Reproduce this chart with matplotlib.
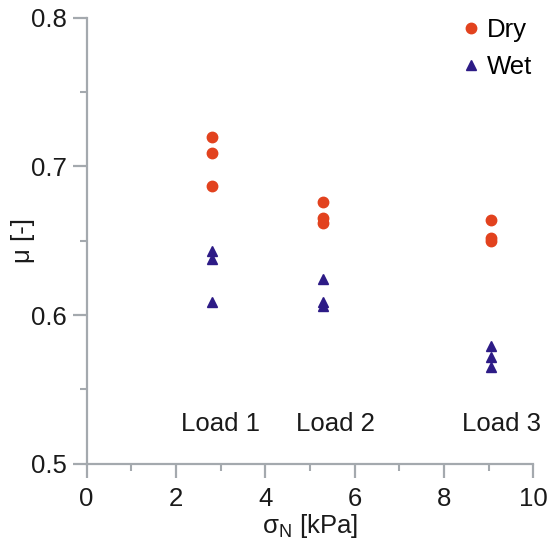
import matplotlib
matplotlib.use("Agg")
import matplotlib.pyplot as plt
from matplotlib.ticker import MultipleLocator, FormatStrFormatter

plt.rcParams["font.family"] = ["Liberation Sans", "DejaVu Sans"]
plt.rcParams["mathtext.fontset"] = "custom"
plt.rcParams["mathtext.rm"] = "Liberation Sans"

# normal stress for each load level [kPa]
load_x = [2.8, 5.3, 9.05]
load_labels = ["Load 1", "Load 2", "Load 3"]
label_x = [3.0, 5.58, 9.29]
label_y = 0.5264

# friction coefficients, three repeats per load
dry_mu = [
    [0.720, 0.709, 0.687],
    [0.676, 0.665, 0.662],
    [0.664, 0.652, 0.650],
]
wet_mu = [
    [0.643, 0.638, 0.609],
    [0.624, 0.609, 0.606],
    [0.579, 0.572, 0.565],
]

RED = "#e2421e"
BLUE = "#2d1b86"
GRAY = "#a4a9ae"
FS = 18.5

fig = plt.figure(figsize=(5.48, 5.40), dpi=100)
ax = fig.add_axes([0.158, 0.1413, 0.815, 0.826])

dry_x = [x for x, vals in zip(load_x, dry_mu) for _ in vals]
dry_y = [v for vals in dry_mu for v in vals]
wet_x = [x for x, vals in zip(load_x, wet_mu) for _ in vals]
wet_y = [v for vals in wet_mu for v in vals]

ax.plot(dry_x, dry_y, "o", color=RED, markersize=7.5, label="Dry", linestyle="none")
ax.plot(wet_x, wet_y, "^", color=BLUE, markersize=6.8, label="Wet", linestyle="none")

for x, lab in zip(label_x, load_labels):
    ax.text(x, label_y, lab, ha="center", va="center", fontsize=FS,
            color="#1a1a1a", clip_on=False)

ax.set_xlim(0, 10)
ax.set_ylim(0.5, 0.8)
ax.xaxis.set_major_locator(MultipleLocator(2))
ax.xaxis.set_minor_locator(MultipleLocator(1))
ax.yaxis.set_major_locator(MultipleLocator(0.1))
ax.yaxis.set_minor_locator(MultipleLocator(0.05))
ax.yaxis.set_major_formatter(FormatStrFormatter("%.1f"))

for side in ["top", "right"]:
    ax.spines[side].set_visible(False)
for side in ["left", "bottom"]:
    ax.spines[side].set_color(GRAY)
    ax.spines[side].set_linewidth(1.6)

ax.tick_params(which="major", direction="out", length=10, width=1.6, color=GRAY,
               labelsize=FS, labelcolor="#1a1a1a")
ax.tick_params(which="minor", direction="out", length=5, width=1.5, color=GRAY)
ax.tick_params(axis="x", which="major", pad=7)
ax.tick_params(axis="y", which="major", pad=4)

ax.set_xlabel(r"σ$_\mathregular{N}$ [kPa]", fontsize=FS, color="#1a1a1a", labelpad=0.5)
ax.set_ylabel("μ [-]", fontsize=FS, color="#1a1a1a", labelpad=-3)

ax.legend(loc="upper left", bbox_to_anchor=(457.8 / 548, 1 - 18.0 / 540),
          bbox_transform=fig.transFigure, frameon=False, fontsize=FS,
          handletextpad=0.15, handlelength=1.0, labelspacing=0.5,
          borderpad=0, borderaxespad=0)

fig.savefig("out.png", dpi=100)
